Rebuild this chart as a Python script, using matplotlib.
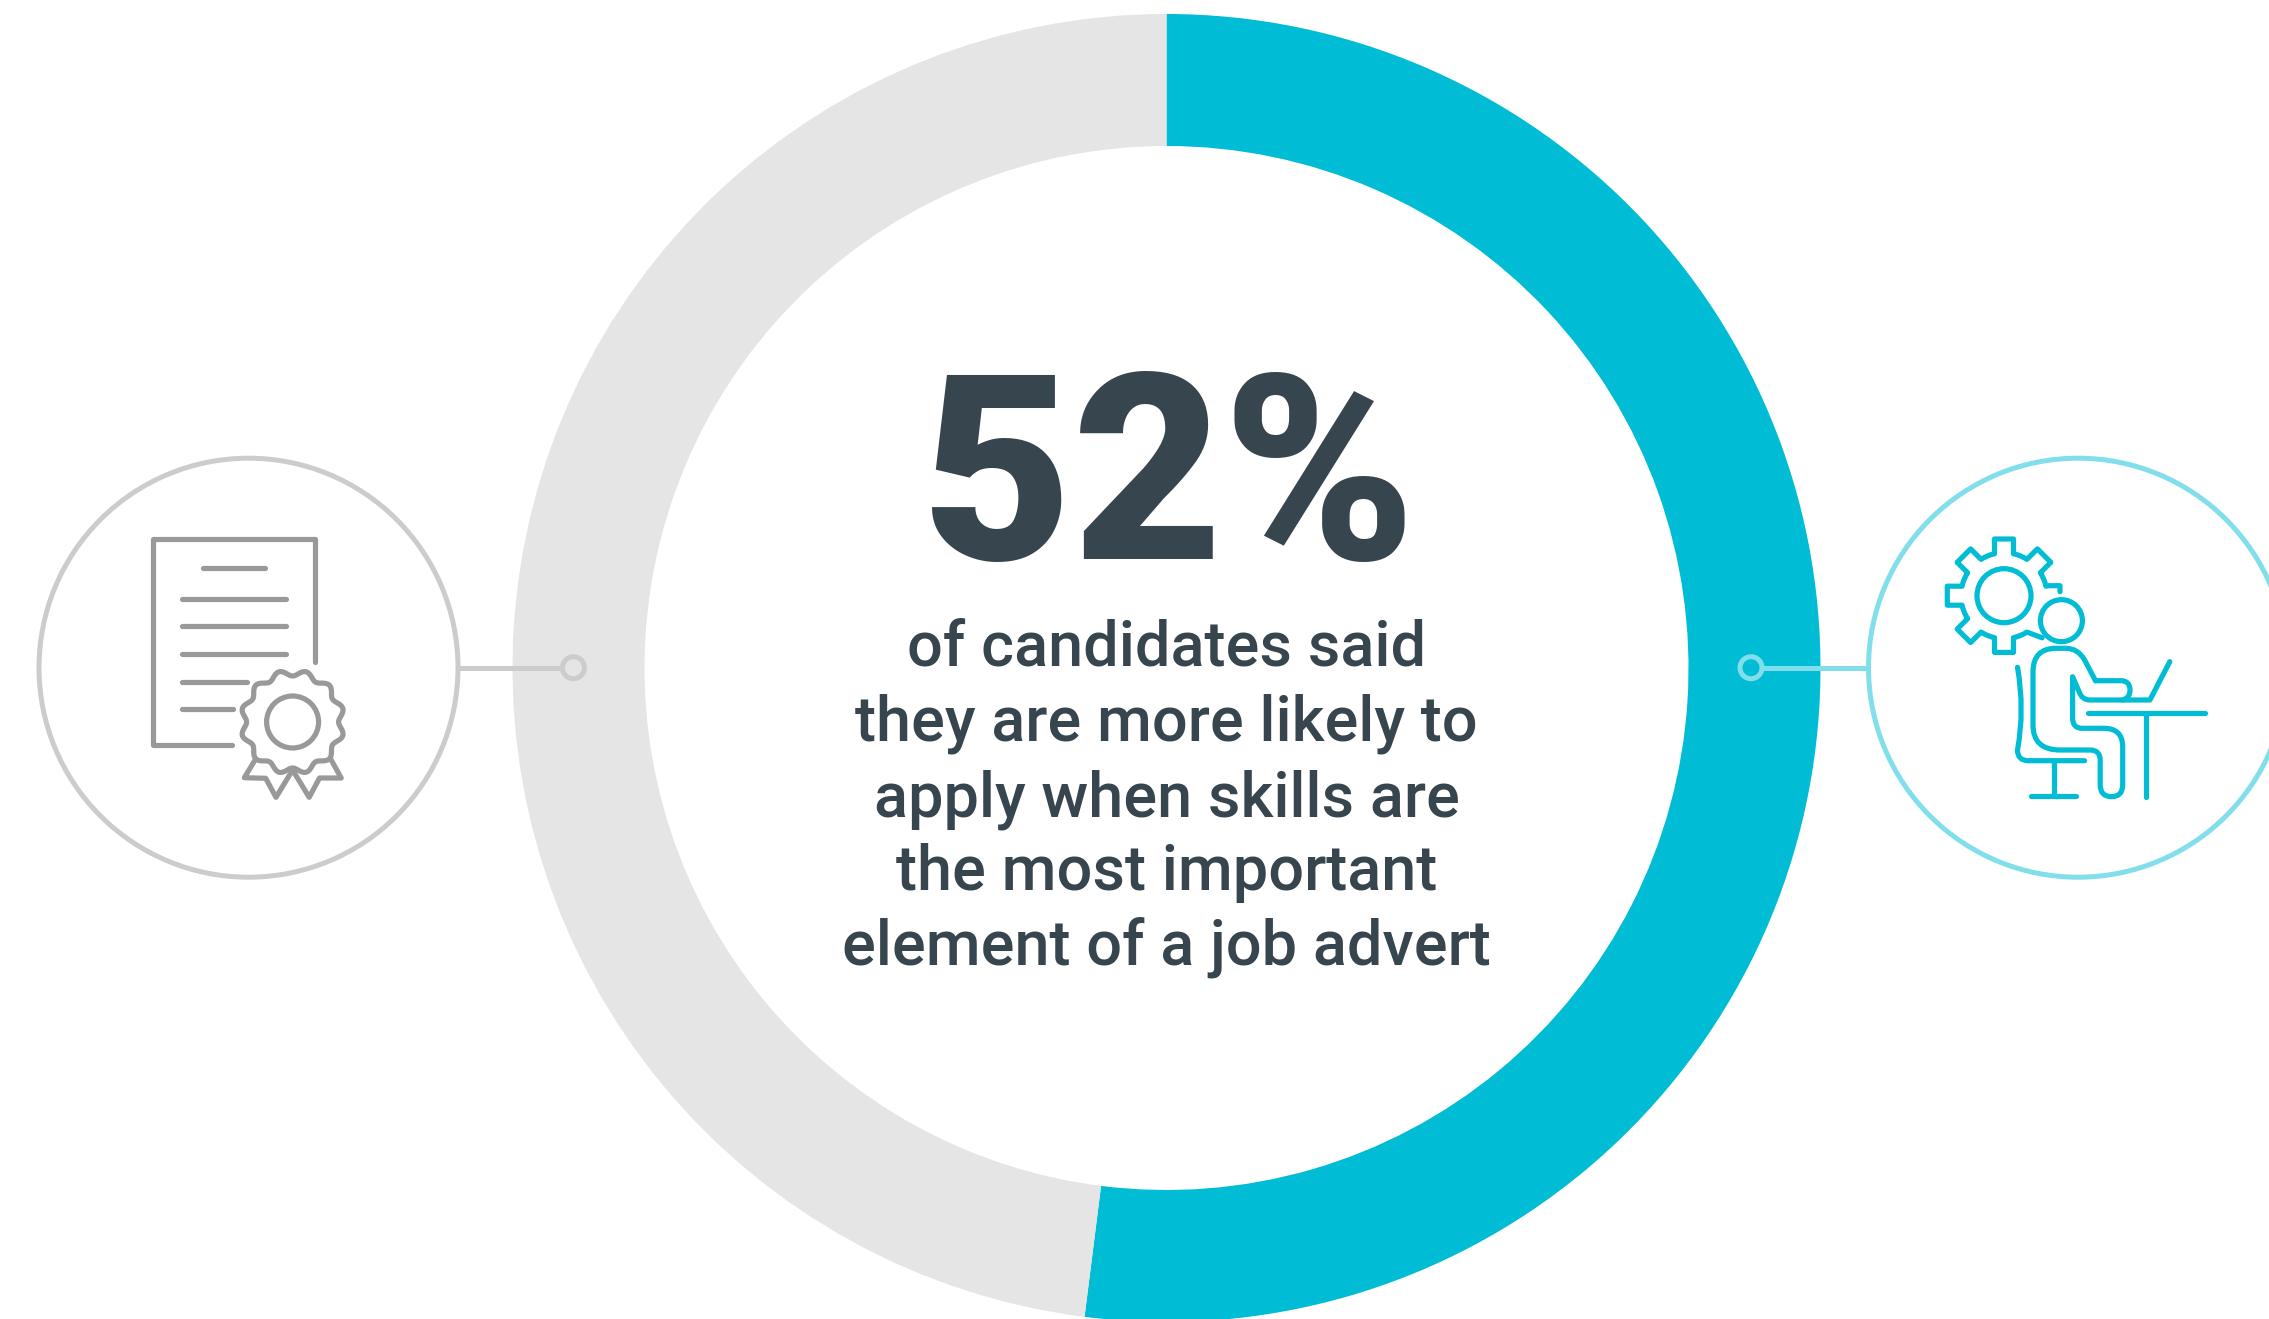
import matplotlib
matplotlib.use('Agg')
import matplotlib.pyplot as plt
from matplotlib.path import Path
from matplotlib.patches import Circle, PathPatch
import numpy as np

W, H = 2269, 1319

# donut values, percent
shares = [52, 48]
share_colors = ['#00bcd4', '#e5e5e5']

headline = '52%'
caption_lines = [
    'of candidates said',
    'they are more likely to',
    'apply when skills are',
    'the most important',
    'element of a job advert',
]
caption_baselines = [666, 741, 816, 890, 964]

INK = '#37454f'
GREY_LINE = '#cccccc'
GREY_ICON = '#999999'
TEAL = '#00bcd4'
TEAL_LINE = '#80dfeb'

cx, cy, r_out, r_in = 1166.5, 668, 654, 522
ICON_LW = 5.2

fig = plt.figure(figsize=(W / 100, H / 100), dpi=100, facecolor='white')

# donut gets its own axes so pie() can stay in unit coordinates
ax_pie = fig.add_axes([(cx - r_out) / W, 1 - (cy + r_out) / H, 2 * r_out / W, 2 * r_out / H])
ax_pie.pie(shares, colors=share_colors, startangle=90, counterclock=False, radius=1,
           wedgeprops=dict(width=(r_out - r_in) / r_out, linewidth=0))
ax_pie.set_xlim(-1, 1)
ax_pie.set_ylim(-1, 1)
ax_pie.set_axis_off()

# everything else is placed in pixels, y pointing down
ax = fig.add_axes([0, 0, 1, 1])
ax.set_xlim(0, W)
ax.set_ylim(H, 0)
ax.set_axis_off()
ax.patch.set_alpha(0)


def px(v):
    return v * 0.72


def stroke(points, color, lw=ICON_LW):
    xs, ys = zip(*points)
    ax.plot(xs, ys, color=color, lw=px(lw), solid_capstyle='round', solid_joinstyle='round')


def ring(x, y, r, color, lw=ICON_LW, fc='none', z=2.5):
    ax.add_patch(Circle((x, y), r, fc=fc, ec=color, lw=px(lw), zorder=z))


def curve(verts, codes, color, lw=ICON_LW):
    ax.add_patch(PathPatch(Path(verts, codes), fc='none', ec=color, lw=px(lw),
                           capstyle='round', joinstyle='round'))


# connectors and the big outline circles
ax.plot([459, 561], [667.7, 667.7], color=GREY_LINE, lw=px(5))
ring(573.4, 667.7, 11, GREY_LINE, 5)
ring(248.5, 667.7, 209.5, GREY_LINE, 5)

ax.plot([1764, 1868], [667.7, 667.7], color=TEAL_LINE, lw=px(5))
ring(1751, 667.7, 11, TEAL_LINE, 5)
ring(2078, 667.7, 209.5, TEAL_LINE, 5)

# certificate icon
stroke([(232, 745), (153, 745), (153, 539), (315, 539), (315, 662)], GREY_ICON)
for y, x0, x1 in [(568, 203, 265), (598.7, 182, 285.5), (626, 182, 285.5),
                  (654, 182, 285.5), (681.7, 182, 247), (709, 182, 233)]:
    stroke([(x0, y), (x1, y)], GREY_ICON)

seal_x, seal_y = 292.6, 722
stroke([(257, 756.7), (244.4, 777.7), (265.7, 778.3), (276, 797.3), (292.6, 770),
        (309.2, 797.3), (319.5, 778), (341.2, 778), (329.4, 756.7)], GREY_ICON)
theta = np.linspace(0, 2 * np.pi, 400)
wobble = 49 - 3 * np.cos(12 * (theta - np.pi / 2))
ax.fill(seal_x + wobble * np.cos(theta), seal_y - wobble * np.sin(theta),
        fc='white', ec=GREY_ICON, lw=px(ICON_LW), zorder=3)
ring(seal_x, seal_y, 26, GREY_ICON, z=4)


# gear with an opening towards the seated figure
def gear_outline(x0, y0, r_tip, r_root, half):
    base = np.degrees(np.arcsin(half / r_root))
    pts = [(x0 + 56, y0 - 4), (x0 + 56, y0 - 10), (x0 + 43.5, y0 - 10)]
    prev = base
    for a in range(45, 316, 45):
        arc = np.radians(np.linspace(prev, a - base, 8))
        pts += [(x0 + r_root * np.cos(t), y0 - r_root * np.sin(t)) for t in arc]
        t = np.radians(a)
        ux, uy = np.cos(t), np.sin(t)
        vx, vy = -uy, ux
        if a == 315:
            pts.append((x0 + r_tip * ux - 2, y0 - r_tip * uy + 2))
            break
        pts.append((x0 + r_tip * ux - half * vx, y0 - (r_tip * uy - half * vy)))
        pts.append((x0 + r_tip * ux + half * vx, y0 - (r_tip * uy + half * vy)))
        pts.append((x0 + r_root * np.cos(t + np.radians(base)),
                    y0 - r_root * np.sin(t + np.radians(base))))
        prev = a + base
    return pts


gear_x, gear_y = 2004, 595.7
stroke(gear_outline(gear_x, gear_y, 56.7, 43, 9.5), TEAL)
ring(gear_x, gear_y, 27, TEAL)
ring(2061.4, 620.7, 21, TEAL)

M, L, C = Path.MOVETO, Path.LINETO, Path.CURVE3
body = [
    ((2095.5, 680.7), M), ((2120.9, 680.7), L),
    ((2130, 680.7), C), ((2130, 690), C), ((2130, 698), C), ((2122.7, 700), C),
    ((2090, 700), L), ((2082, 700), C), ((2079.1, 691.7), C),
    ((2072.6, 676.7), L), ((2072.6, 718), L),
    ((2072.6, 728.3), C), ((2082, 728.3), C), ((2104, 728.3), L),
    ((2122.7, 728.3), C), ((2122.7, 747), C), ((2122.7, 785), L),
    ((2122.7, 796.7), C), ((2111.5, 796.7), C), ((2100.2, 796.7), C), ((2100.2, 785), C),
    ((2100.2, 760), L), ((2100.2, 750), C), ((2090, 750), C), ((2060, 750), L),
    ((2033, 750), C), ((2033, 725), C), ((2033, 672), L),
    ((2033, 648.3), C), ((2056, 648.3), C), ((2066, 648.3), L),
    ((2078, 648.3), C), ((2084.6, 660), C), ((2095.5, 680.7), L),
]
curve([b[0] for b in body], [b[1] for b in body], TEAL)

# desk, laptop and chair
stroke([(2122.7, 700), (2149.9, 700), (2169.8, 661.7)], TEAL)
stroke([(2087.5, 712.7), (2205, 712.7)], TEAL)
stroke([(2146.2, 712.7), (2146.2, 796.7)], TEAL)
chair = [
    ((2017.5, 667.3), M), ((2025, 710), C), ((2017.5, 750), C),
    ((2017.5, 760.7), C), ((2028.3, 760.7), C), ((2084.6, 760.7), L),
]
curve([c[0] for c in chair], [c[1] for c in chair], TEAL)
stroke([(2053.7, 760.7), (2053.7, 795.7)], TEAL)
stroke([(2030.9, 795.7), (2076.2, 795.7)], TEAL)

# centre copy
ax.text(1168.5, 559, headline, family='Roboto', fontweight='black', fontsize=187,
        color=INK, ha='center', va='baseline')
for line, y in zip(caption_lines, caption_baselines):
    ax.text(cx, y, line, family='Roboto', fontweight='medium', fontsize=45.4,
            color=INK, ha='center', va='baseline')

fig.savefig('out.png', dpi=100, facecolor='white')
